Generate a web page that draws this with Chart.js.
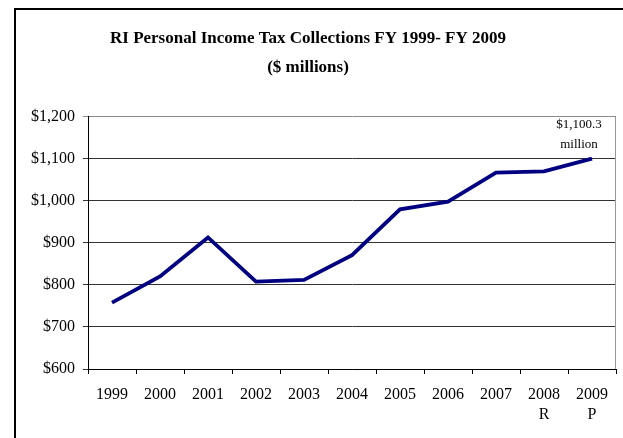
<!DOCTYPE html>
<html>
<head>
<meta charset="utf-8">
<script src="https://cdn.jsdelivr.net/npm/chart.js@4.4.0/dist/chart.umd.min.js"></script>
<style>
    html, body { margin: 0; padding: 0; background: #fff; overflow: hidden; }
    #wrap { position: relative; width: 623px; height: 438px; }
    #frame {
        position: absolute; left: 14px; top: 8px;
        width: 640px; height: 460px;
        border: 2px solid #000;
    }
    #chart { position: absolute; left: 0; top: 0; }
</style>
</head>
<body>
<div id="wrap">
    <div id="frame"></div>
    <canvas id="chart" width="623" height="438"></canvas>
</div>
<script>
// ----- data -----
const years = [["1999"], ["2000"], ["2001"], ["2002"], ["2003"], ["2004"],
               ["2005"], ["2006"], ["2007"], ["2008", "R"], ["2009", "P"]];
const collections = [758, 820, 913, 808, 812, 871, 980, 998, 1067, 1070, 1100.3];
const yTicks = [600, 700, 800, 900, 1000, 1100, 1200];

const SERIF = "'Liberation Serif', 'Times New Roman', serif";

function money(v) {
    return "$" + Number(v).toLocaleString("en-US");
}

// label over the last point: "$1,100.3" / "million"
const lastLabel = {
    id: "lastLabel",
    afterDatasetsDraw(chart) {
        const meta = chart.getDatasetMeta(0);
        const pt = meta.data[meta.data.length - 1];
        const v = collections[collections.length - 1];
        const c = chart.ctx;
        c.save();
        c.font = "13px " + SERIF;
        c.fillStyle = "#000";
        c.textAlign = "center";
        c.textBaseline = "middle";
        c.fillText("$" + v.toLocaleString("en-US", { minimumFractionDigits: 1 }), pt.x - 13, pt.y - 34);
        c.fillText("million", pt.x - 13, pt.y - 14);
        c.restore();
    }
};

// grey right edge of the plot area
const plotEdge = {
    id: "plotEdge",
    beforeDatasetsDraw(chart) {
        const a = chart.chartArea;
        const c = chart.ctx;
        c.save();
        c.strokeStyle = "#999";
        c.lineWidth = 1;
        c.beginPath();
        c.moveTo(a.right - 0.5, a.top);
        c.lineTo(a.right - 0.5, a.bottom);
        c.stroke();
        c.restore();
    }
};

new Chart(document.getElementById("chart"), {
    type: "line",
    data: {
        labels: years,
        datasets: [{
            data: collections,
            borderColor: "#000080",
            borderWidth: 3.8,
            pointRadius: 0,
            tension: 0,
            fill: false
        }]
    },
    options: {
        responsive: false,
        animation: false,
        layout: { padding: { left: 0, right: 7, top: 0, bottom: 0 } },
        plugins: {
            legend: { display: false },
            tooltip: { enabled: false },
            title: {
                display: true,
                text: ["RI Personal Income Tax Collections FY 1999- FY 2009", "($ millions)"],
                color: "#000",
                font: { family: SERIF, size: 17, weight: "bold", lineHeight: 1.7 },
                padding: { top: 24, bottom: 35 }
            }
        },
        scales: {
            x: {
                offset: true,
                grid: {
                    offset: true,
                    drawOnChartArea: false,
                    drawTicks: true,
                    tickLength: 5,
                    color: "#000"
                },
                border: { color: "#000", width: 1 },
                ticks: {
                    color: "#000",
                    font: { family: SERIF, size: 16, lineHeight: 1.3 },
                    padding: 10,
                    maxRotation: 0,
                    autoSkip: false
                },
                afterFit(scale) { scale.height = 69; }
            },
            y: {
                min: 600,
                max: 1200,
                afterBuildTicks(scale) {
                    scale.ticks = yTicks.map(v => ({ value: v }));
                },
                grid: {
                    color: ctx => (ctx.tick && ctx.tick.value === 1200) ? "#8a8a8a" : "#333",
                    lineWidth: 1,
                    tickLength: 5
                },
                border: { color: "#000", width: 1 },
                ticks: {
                    color: "#000",
                    font: { family: SERIF, size: 16 },
                    padding: 8,
                    callback: v => money(v)
                },
                afterFit(scale) { scale.width = 88; }
            }
        }
    },
    plugins: [plotEdge, lastLabel]
});
</script>
</body>
</html>
